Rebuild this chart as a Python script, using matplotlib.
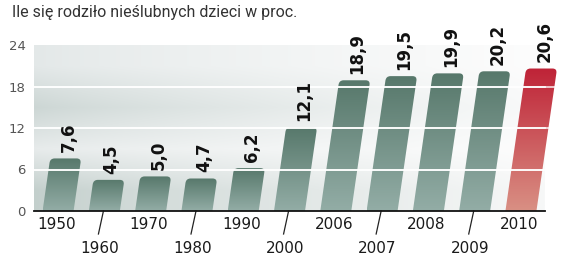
import numpy as np
import matplotlib
matplotlib.use("Agg")
import matplotlib.pyplot as plt
from matplotlib.path import Path
from matplotlib.patches import PathPatch
from matplotlib.colors import LinearSegmentedColormap, to_rgb

# ---- data ----
years = ["1950", "1960", "1970", "1980", "1990", "2000", "2006", "2007", "2008", "2009", "2010"]
values = [7.6, 4.5, 5.0, 4.7, 6.2, 12.1, 18.9, 19.5, 19.9, 20.2, 20.6]
yticks = [0, 6, 12, 18, 24]
title = "Ile się rodziło nieślubnych dzieci w proc."

W, H = 569, 260
fig = plt.figure(figsize=(W / 100, H / 100), dpi=100)
ax_l, ax_end, ax_r, ax_b, ax_t = 34, 545, 569, 211, 45
ax = fig.add_axes([ax_l / W, 1 - ax_b / H, (ax_r - ax_l) / W, (ax_b - ax_t) / H])

x0, xend = -0.52, 10.52
px_x = (ax_end - ax_l) / (xend - x0)   # pixels per x unit
x1 = x0 + (ax_r - ax_l) / px_x
y0, y1 = 0, 24
px_y = (ax_b - ax_t) / (y1 - y0)       # pixels per y unit

# ---- background bands with horizontal fade ----
left_cols = ["#c3cfcc", "#e7ebeb", "#ccd6d4", "#e3e8e8"]
right_cols = ["#f7f8f8", "#fdfdfd", "#f9fafa", "#fdfdfd"]
nx = 300
bg = np.zeros((4, nx, 3))
t = np.linspace(0, 1, nx) ** 0.8
for i in range(4):
    lc = np.array(to_rgb(left_cols[i]))
    rc = np.array(to_rgb(right_cols[i]))
    bg[i] = lc[None, :] * (1 - t[:, None]) + rc[None, :] * t[:, None]
ax.imshow(bg, extent=[x0, xend, y0, y1], origin="lower", aspect="auto",
          interpolation="bilinear", zorder=0)

# white band separators
for yv in yticks[1:-1]:
    ax.plot([x0, xend], [yv, yv], color="white", lw=1.3, alpha=0.9, zorder=2.5)

# ---- bars ----
bw = 31 / px_x
slant = 1.0 / px_x           # x shift per y unit
rx, ry = 4.5 / px_x, 4.5 / px_y
grad = np.linspace(0, 1, 256).reshape(-1, 1)
green = LinearSegmentedColormap.from_list("g", ["#93ada6", "#57786b"])
red = LinearSegmentedColormap.from_list("r", ["#d99084", "#bf2337"])

for i, v in enumerate(values):
    xl, xr = i - bw / 2, i + bw / 2
    s = slant * v
    verts = [(xl, 0), (xl + slant * (v - ry), v - ry), (xl + s, v), (xl + s + rx, v),
             (xr + s - rx, v), (xr + s, v), (xr + slant * (v - ry), v - ry), (xr, 0), (xl, 0)]
    codes = [Path.MOVETO, Path.LINETO, Path.CURVE3, Path.CURVE3, Path.LINETO,
             Path.CURVE3, Path.CURVE3, Path.LINETO, Path.CLOSEPOLY]
    patch = PathPatch(Path(verts, codes), facecolor="none", edgecolor="none", zorder=2)
    ax.add_patch(patch)
    cmap = red if i == len(values) - 1 else green
    im = ax.imshow(grad, extent=[xl, xr + s, 0, v], origin="lower", aspect="auto",
                   cmap=cmap, zorder=2, interpolation="bilinear")
    im.set_clip_path(patch)
    ax.annotate(f"{v:.1f}".replace(".", ","), xy=(i + s, v), xytext=(2, 4.5),
                textcoords="offset points", rotation=90, ha="center", va="bottom",
                fontsize=12, fontweight="bold", family=["DejaVu Sans"],
                color="#111111", annotation_clip=False, zorder=5)

# white lines crossing bars
for yv in yticks[1:-1]:
    ax.axhline(yv, color="white", lw=1.2, alpha=0.85, zorder=3)

ax.set_xlim(x0, x1)
ax.set_ylim(y0, y1)

# ---- axes styling ----
for sp in ["top", "right", "left"]:
    ax.spines[sp].set_visible(False)
ax.spines["bottom"].set_color("#111111")
ax.spines["bottom"].set_linewidth(1.3)
ax.spines["bottom"].set_zorder(4)
ax.spines["bottom"].set_bounds(x0, xend)
ax.set_yticks(yticks)
ax.set_yticklabels([str(y) for y in yticks])
ax.tick_params(axis="y", length=0, pad=6, labelsize=9.5, labelcolor="#555555")
ax.set_xticks([])

tr = ax.get_xaxis_transform()
lead = 23 / px_y
for i, yr in enumerate(years):
    if i % 2 == 0:
        ax.text(i - 0.04, -(224.5 - ax_b) / (ax_b - ax_t), yr, transform=tr,
                ha="center", va="center", fontsize=11, color="#1a1a1a")
    else:
        ax.plot([i - 0.02, i - 0.02 - 5 / px_x], [0, -lead], color="#222222", lw=0.9,
                clip_on=False, zorder=4)
        ax.text(i - 0.1, -(248.5 - ax_b) / (ax_b - ax_t), yr, transform=tr,
                ha="center", va="center", fontsize=11, color="#1a1a1a")

fig.text(12 / W, 1 - 13 / H, title, ha="left", va="center", fontsize=11.5,
         family=["Roboto", "DejaVu Sans"], color="#333333")

fig.savefig("out.png", dpi=100, facecolor="white")
